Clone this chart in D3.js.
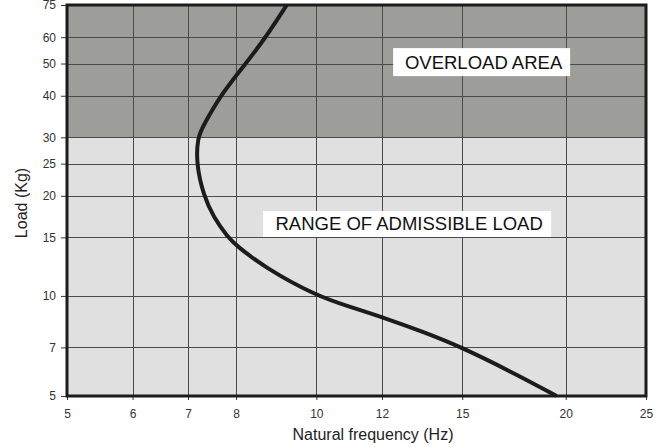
<!DOCTYPE html>
<html>
<head>
<meta charset="utf-8">
<script src="https://cdn.jsdelivr.net/npm/d3@7"></script>
<style>
  html, body { margin: 0; padding: 0; background: #fff; }
  svg { display: block; font-family: "Liberation Sans", Arial, sans-serif; }
</style>
</head>
<body>
<svg id="chart" width="669" height="447"></svg>
<script>
// Tick values
const xTicks = [5, 6, 7, 8, 10, 12, 15, 20, 25];
const yTicks = [5, 7, 10, 15, 20, 25, 30, 40, 50, 60, 75];

// Curve: natural frequency (Hz) vs load (Kg), ordered by increasing load
const frequency = [19.5, 17.5, 15, 13.45, 12, 11, 10, 8.65, 8, 7.82, 7.51, 7.31, 7.16, 7.19, 7.29, 7.65, 8.22, 8.69, 9.21];
const load      = [5, 5.78, 7, 7.8, 8.64, 9.26, 10, 12.2, 14.2, 15, 17.3, 20, 25, 30, 32.2, 40, 50, 60, 75];

// Zones
const overloadThreshold = 30;
const zoneLabels = ["OVERLOAD AREA", "RANGE OF ADMISSIBLE LOAD"];
const zoneLabelPos = [{f: 15.83, l: 50.5}, {f: 12.87, l: 16.46}];

const svg = d3.select("#chart");
const W = 669, H = 447;
const m = {left: 67, right: W - 646, top: 5, bottom: H - 396};

const x = d3.scaleLog().domain([5, 25]).range([m.left, W - m.right]);
const y = d3.scaleLog().domain([5, 75]).range([H - m.bottom, m.top]);

// Backgrounds
svg.append("rect")
  .attr("x", x(5)).attr("y", y(overloadThreshold))
  .attr("width", x(25) - x(5)).attr("height", y(5) - y(overloadThreshold))
  .attr("fill", "#e0e0e0");
svg.append("rect")
  .attr("x", x(5)).attr("y", y(75))
  .attr("width", x(25) - x(5)).attr("height", y(overloadThreshold) - y(75))
  .attr("fill", "#9d9d99");

// Grid
const grid = svg.append("g");
grid.selectAll("line.v").data(xTicks.slice(1, -1)).join("line")
  .attr("x1", d => Math.round(x(d)) + 0.5).attr("x2", d => Math.round(x(d)) + 0.5)
  .attr("y1", y(75)).attr("y2", y(5))
  .attr("stroke", "#4a4a4a").attr("stroke-width", 1);
grid.selectAll("line.h").data(yTicks.slice(1, -1)).join("line")
  .attr("y1", d => Math.round(y(d)) + 0.5).attr("y2", d => Math.round(y(d)) + 0.5)
  .attr("x1", x(5)).attr("x2", x(25))
  .attr("stroke", "#4a4a4a").attr("stroke-width", 1);

// Zone labels (white boxes)
const boxW = [177, 288], boxH = [28, 26];
zoneLabels.forEach((t, i) => {
  const cx = x(zoneLabelPos[i].f), cy = y(zoneLabelPos[i].l);
  svg.append("rect")
    .attr("x", cx - boxW[i] / 2).attr("y", cy - boxH[i] / 2)
    .attr("width", boxW[i]).attr("height", boxH[i])
    .attr("fill", "#fff");
  svg.append("text")
    .attr("x", cx + 2).attr("y", cy + 6.5)
    .attr("text-anchor", "middle")
    .attr("font-size", 18.5)
    .attr("fill", "#111")
    .text(t);
});

// Curve
const pts = frequency.map((f, i) => [f, load[i]]);
svg.append("path")
  .datum(pts)
  .attr("fill", "none")
  .attr("stroke", "#1c1c1c")
  .attr("stroke-width", 4)
  .attr("stroke-linejoin", "round")
  .attr("d", d3.line().x(d => x(d[0])).y(d => y(d[1])).curve(d3.curveBasis));

// Axes
const xAxis = svg.append("g").attr("transform", `translate(0,${y(5)})`)
  .call(d3.axisBottom(x).tickValues(xTicks).tickFormat(d3.format("d")).tickSize(4).tickPadding(9));
const yAxis = svg.append("g").attr("transform", `translate(${x(5)},0)`)
  .call(d3.axisLeft(y).tickValues(yTicks).tickFormat(d3.format("d")).tickSize(6).tickPadding(5));
[xAxis, yAxis].forEach(a => {
  a.select(".domain").remove();
  a.selectAll(".tick line").attr("stroke", "#333");
  a.selectAll(".tick text").attr("font-size", 12).attr("fill", "#333")
    .attr("font-family", "'Liberation Sans', Arial, sans-serif");
});

// Frame
svg.append("rect")
  .attr("x", x(5)).attr("y", y(75))
  .attr("width", x(25) - x(5)).attr("height", y(5) - y(75))
  .attr("fill", "none").attr("stroke", "#1c1c1c").attr("stroke-width", 3);

// Axis titles
svg.append("text")
  .attr("x", 373).attr("y", 440)
  .attr("text-anchor", "middle").attr("font-size", 16).attr("fill", "#222")
  .text("Natural frequency (Hz)");
svg.append("text")
  .attr("transform", `translate(27,203) rotate(-90)`)
  .attr("text-anchor", "middle").attr("font-size", 16).attr("fill", "#222")
  .text("Load (Kg)");
</script>
</body>
</html>
